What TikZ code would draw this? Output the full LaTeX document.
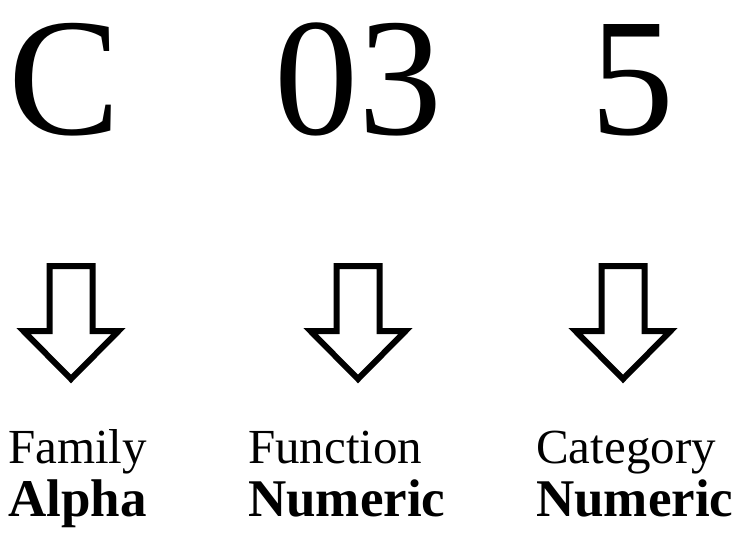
\documentclass[tikz,border=0pt]{standalone}
\usepackage{fontspec}
\setmainfont{Liberation Serif}
\begin{document}
\begin{tikzpicture}[x=1pt,y=-1pt,
  big/.style={anchor=base west,inner sep=0pt,font=\fontsize{168}{168}\selectfont},
  lab/.style={anchor=base west,inner sep=0pt,font=\fontsize{49}{49}\selectfont},
  blab/.style={anchor=base west,inner sep=0pt,font=\fontsize{53}{53}\selectfont\bfseries},
  blockarrow/.style={draw=black,line width=6pt,miter limit=10,fill=white},
  pics/downarrow/.style={code={
    \draw[blockarrow] (-21.5,0) -- (21.5,0) -- (21.5,65) -- (47.5,65) -- (0,113) -- (-47.5,65) -- (-21.5,65) -- cycle;
  }}]
\useasboundingbox (0,0) rectangle (738,533);
\node[big] (c) at (8,134) {C};
\node[big] (f) at (274,134) {03};
\node[big] (n) at (590,134) {5};
\pic at (71,266) {downarrow};
\pic at (358,266) {downarrow};
\pic at (623,266) {downarrow};
\node[lab] (fam) at (8,463) {Family};
\node[lab] (fun) at (248,463) {Function};
\node[lab] (cat) at (536,463) {Category};
\node[blab] (alpha) at (8,516) {Alpha};
\node[blab] (num1) at (248,516) {Numeric};
\node[blab] (num2) at (536,516) {Numeric};
\end{tikzpicture}
\end{document}
